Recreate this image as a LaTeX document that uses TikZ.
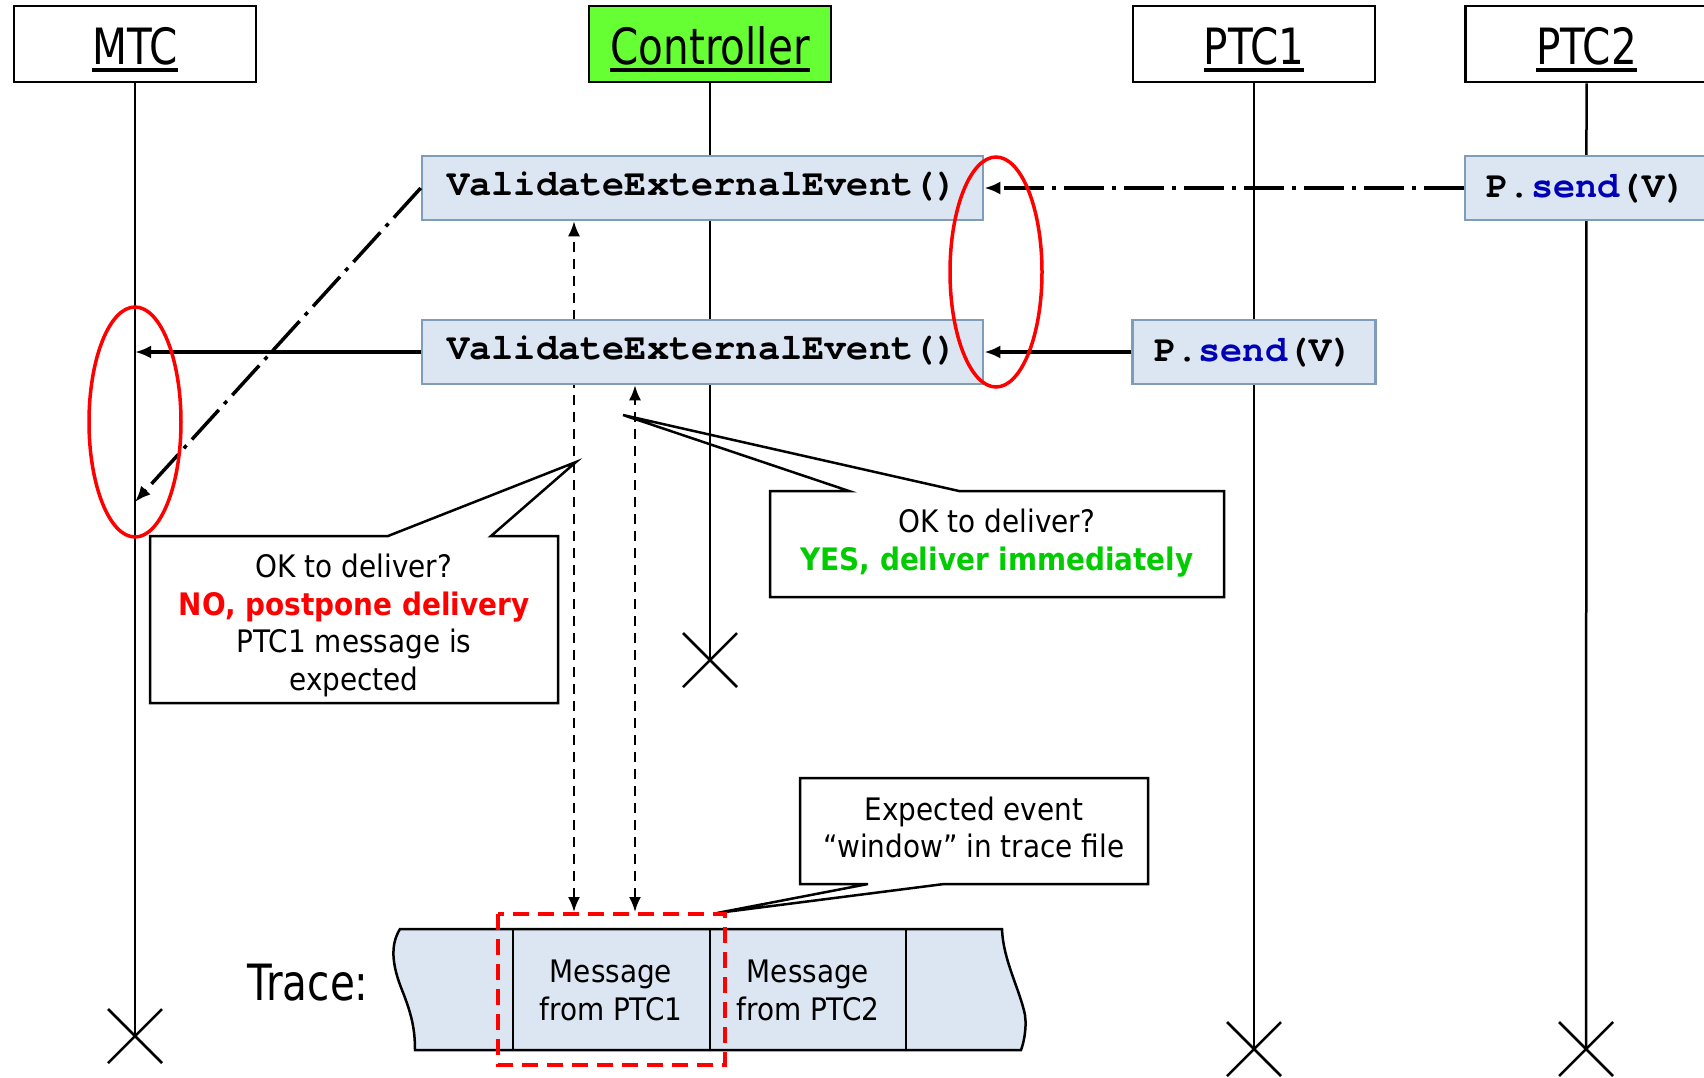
\documentclass[tikz,border=0pt]{standalone}
\usepackage{fontspec}
\usetikzlibrary{arrows.meta,shapes.geometric}
\newfontfamily\bigf{DejaVu Sans}[FakeStretch=0.81]
\newfontfamily\smf{DejaVu Sans}[FakeStretch=0.9]
\newfontfamily\monof{TeX Gyre Cursor}
\definecolor{boxfill}{RGB}{220,230,242}
\definecolor{boxline}{RGB}{127,157,185}
\definecolor{ctrlgreen}{RGB}{102,255,51}
\definecolor{okgreen}{RGB}{0,204,0}
\definecolor{sendblue}{RGB}{0,0,180}
\newcommand\myul[1]{\setbox0\hbox{#1}\rlap{\rule[-8pt]{\wd0}{3.6pt}}\box0}
\tikzset{
  titlebox/.style={draw=black, line width=2.5pt, minimum width=242pt, minimum height=76pt,
    inner sep=0pt, text height=40pt, text depth=0pt, font=\bigf\fontsize{50}{60}\selectfont},
  lifeline/.style={line width=2.5pt},
  veebox/.style={draw=boxline, fill=boxfill, line width=2.5pt, minimum width=561pt,
    minimum height=64pt, inner sep=0pt, text height=14pt, text depth=0pt,
    font=\monof\bfseries\fontsize{37}{44}\selectfont},
  sendbox/.style={veebox, minimum width=243pt, text height=18pt},
  msgarr/.style={line width=3.5pt, -{Latex[length=16pt,width=13pt]}},
  dashdotarr/.style={line width=3.5pt, dash pattern=on 40pt off 8pt on 4pt off 8pt,
    -{Latex[length=16pt,width=13pt]}},
  dasharr/.style={line width=2.2pt, dash pattern=on 10pt off 7pt,
    {Latex[length=15pt,width=12pt]}-{Latex[length=15pt,width=12pt]}},
  redell/.style={ellipse, draw=red, line width=3.5pt, inner sep=0pt,
    minimum width=92pt, minimum height=230pt},
  callout/.style={draw=black, line width=2.5pt},
  small/.style={font=\smf\fontsize{31}{38}\selectfont, anchor=base, inner sep=0pt},
  endx/.style={line width=2.5pt},
}
\begin{document}
\begin{tikzpicture}[x=1pt,y=-1pt]
\useasboundingbox (0,0) rectangle (1704,1077);
% coordinates
\coordinate (mtcend) at (135,1036);
\coordinate (ctrlend) at (710,660);
\coordinate (p1end) at (1254,1049);
\coordinate (p2end) at (1586,1049);
\coordinate (mtcdiag) at (135,502);
\coordinate (tr1) at (574,912);
\coordinate (tr2) at (635,912);

% title boxes
\node[titlebox] (mtc) at (135,44) {\myul{MTC}};
\node[titlebox, fill=ctrlgreen] (ctrl) at (710,44) {\myul{Controller}};
\node[titlebox] (ptc1) at (1254,44) {\myul{PTC1}};
\node[titlebox] (ptc2) at (1586.5,44) {\myul{PTC2}};

% lifelines
\draw[lifeline] (mtc.south) -- (mtcend);
\draw[lifeline] (ctrl.south) -- (ctrlend);
\draw[lifeline] (ptc1.south) -- (p1end);
\draw[lifeline] (ptc2.south) -- (p2end);

% end crosses
\foreach \e in {mtcend,ctrlend,p1end,p2end}{
  \draw[endx] ([shift={(-27,-27)}]\e) -- ([shift={(27,27)}]\e)
              ([shift={(-27,27)}]\e) -- ([shift={(27,-27)}]\e);
}

% boxes
\node[veebox] (vee1) at (702.5,188) {ValidateExternalEvent()};

% dashed trace arrows (behind the lower box)
\draw[dasharr] (tr1) -- (tr1 |- vee1.south);
\node[veebox] (vee2) at (702.5,352) {ValidateExternalEvent()};
\draw[dasharr] (tr2) -- (tr2 |- vee2.south);

\node[sendbox] (send1) at (1254,352) {P.\textcolor{sendblue}{send}(V)};
\node[sendbox] (send2) at (1586.5,188) {P.\textcolor{sendblue}{send}(V)};

% messages
\draw[dashdotarr] (send2.west) -- (vee1.east);
\draw[msgarr] (send1.west) -- (vee2.east);
\draw[msgarr] (vee2.west) -- (vee2.west -| mtcend);
\draw[dashdotarr] (vee1.west) -- (mtcdiag);

% callouts
\draw[callout] (388,536) -- (150,536) -- (150,703) -- (558,703) -- (558,536) -- (491,536) -- (576,462) -- cycle;
\node[small] (l1) at (354,577) {OK to deliver?};
\node[small, text=red, font=\smf\bfseries\fontsize{31}{38}\selectfont] (l2) at (354,615) {NO, postpone delivery};
\node[small] (l3) at (354,652) {PTC1 message is};
\node[small] (l4) at (354,690) {expected};

\draw[callout] (849,491) -- (770,491) -- (770,597) -- (1224,597) -- (1224,491) -- (959,491) -- (623,415) -- cycle;
\node[small] (r1) at (997,532) {OK to deliver?};
\node[small, text=okgreen, font=\smf\bfseries\fontsize{31}{38}\selectfont] (r2) at (997,570) {YES, deliver immediately};

\draw[callout] (868,884) -- (800,884) -- (800,778) -- (1148,778) -- (1148,884) -- (944,884) -- (717,913) -- cycle;
\node[small] (b1) at (974,820) {Expected event};
\node[small] (b2) at (974,857) {“window” in trace file};

% trace band
\node[font=\bigf\fontsize{50}{60}\selectfont, anchor=base, inner sep=0pt] (tracelbl) at (308,1000) {Trace:};
\draw[fill=boxfill, line width=2.5pt]
  (400,929) -- (1002,929)
  .. controls (1003,960) and (1020,990) .. (1025,1015)
  .. controls (1027,1030) and (1023,1045) .. (1021,1050)
  -- (415,1050)
  .. controls (415,1030) and (412,1015) .. (402,990)
  .. controls (392,965) and (390,945) .. (400,929) -- cycle;
\draw[line width=2.5pt] (513,929) -- (513,1050) (710,929) -- (710,1050) (906,929) -- (906,1050);
\node[small] (m1a) at (611,982) {Message};
\node[small] (m1b) at (611,1020) {from PTC1};
\node[small] (m2a) at (808,982) {Message};
\node[small] (m2b) at (808,1020) {from PTC2};
\draw[red, line width=3.5pt, dash pattern=on 16pt off 9pt] (498,914) rectangle (725,1065);

% red ellipses
\node[redell] (ell1) at (135,422) {};
\node[redell] (ell2) at (996,272) {};
\end{tikzpicture}
\end{document}
